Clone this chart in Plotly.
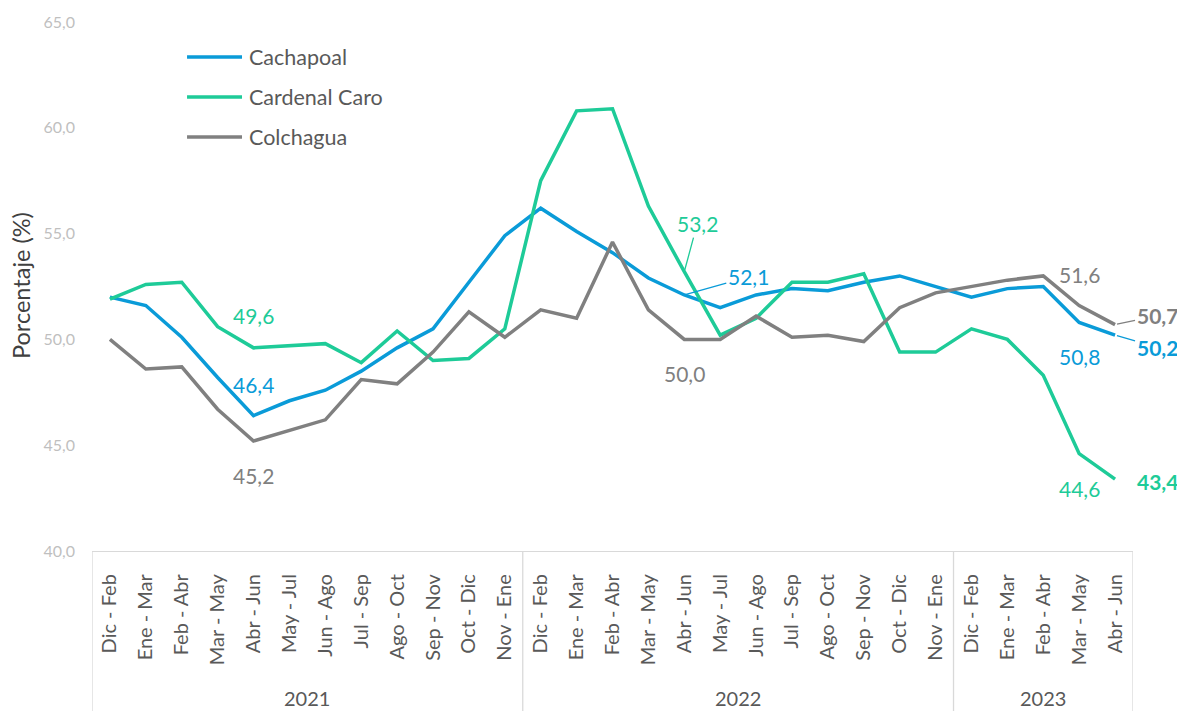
import plotly.graph_objects as go

# ---------------- data ----------------
periods = ["Dic - Feb", "Ene - Mar", "Feb - Abr", "Mar - May", "Abr - Jun", "May - Jul",
           "Jun - Ago", "Jul - Sep", "Ago - Oct", "Sep - Nov", "Oct - Dic", "Nov - Ene",
           "Dic - Feb", "Ene - Mar", "Feb - Abr", "Mar - May", "Abr - Jun", "May - Jul",
           "Jun - Ago", "Jul - Sep", "Ago - Oct", "Sep - Nov", "Oct - Dic", "Nov - Ene",
           "Dic - Feb", "Ene - Mar", "Feb - Abr", "Mar - May", "Abr - Jun"]
years = ["2021", "2022", "2023"]
year_counts = [12, 12, 5]

cachapoal = [52.0, 51.6, 50.1, 48.2, 46.4, 47.1, 47.6, 48.5, 49.6, 50.5, 52.7, 54.9,
             56.2, 55.1, 54.1, 52.9, 52.1, 51.5, 52.1, 52.4, 52.3, 52.7, 53.0, 52.5,
             52.0, 52.4, 52.5, 50.8, 50.2]
cardenal_caro = [51.9, 52.6, 52.7, 50.6, 49.6, 49.7, 49.8, 48.9, 50.4, 49.0, 49.1, 50.5,
                 57.5, 60.8, 60.9, 56.3, 53.2, 50.2, 51.0, 52.7, 52.7, 53.1, 49.4, 49.4,
                 50.5, 50.0, 48.3, 44.6, 43.4]
colchagua = [50.0, 48.6, 48.7, 46.7, 45.2, 45.7, 46.2, 48.1, 47.9, 49.4, 51.3, 50.1,
             51.4, 51.0, 54.6, 51.4, 50.0, 50.0, 51.1, 50.1, 50.2, 49.9, 51.5, 52.2,
             52.5, 52.8, 53.0, 51.6, 50.7]

y_ticks = [40, 45, 50, 55, 60, 65]

# ---------------- styling ----------------
FONT = "Lato"
C_BLUE = "#0A9BD8"
C_GREEN = "#1ECB98"
C_GRAY = "#808080"
C_TEXT = "#595959"
C_AXIS = "#D9D9D9"

x_idx = list(range(len(periods)))
series = [("Cachapoal", cachapoal, C_BLUE),
          ("Cardenal Caro", cardenal_caro, C_GREEN),
          ("Colchagua", colchagua, C_GRAY)]

fig = go.Figure()
for name, vals, col in series:
    fig.add_trace(go.Scatter(
        x=x_idx, y=vals, mode="lines", name=name, showlegend=False,
        line=dict(color=col, width=3.5), hoverinfo="skip"))

def fmt(v):
    return f"{v:.1f}".replace(".", ",")

annotations = []
shapes = []

def lab(series_vals, i, col, dx=0, dy=0, size=21, bold=False, arrow=None):
    v = series_vals[i]
    txt = f"<b>{fmt(v)}</b>" if bold else fmt(v)
    a = dict(x=i, y=v, xref="x", yref="y", text=txt,
             font=dict(family=FONT, size=size, color=col))
    if arrow:
        a.update(showarrow=True, ax=arrow[0], ay=arrow[1], arrowhead=0,
                 arrowwidth=1.3, arrowcolor=col, standoff=2)
    else:
        a.update(showarrow=False, xshift=dx, yshift=dy)
    annotations.append(a)

# 2021 Abr-Jun labels
lab(cardenal_caro, 4, C_GREEN, dy=32)
lab(cachapoal, 4, C_BLUE, dy=31)
lab(colchagua, 4, C_GRAY, dy=-35)
# 2022 Abr-Jun labels
lab(cardenal_caro, 16, C_GREEN, arrow=(13, -48))
lab(cachapoal, 16, C_BLUE, arrow=(64, -18))
lab(colchagua, 16, C_GRAY, dy=-34)
# 2023 Mar-May labels
lab(colchagua, 27, C_GRAY, dy=31)
lab(cachapoal, 27, C_BLUE, dy=-34)
lab(cardenal_caro, 27, C_GREEN, dy=-35)
# last values, bold
lab(colchagua, 28, C_GRAY, size=21, bold=True, arrow=(42, -9))
lab(cachapoal, 28, C_BLUE, size=21, bold=True, arrow=(42, 12))
lab(cardenal_caro, 28, C_GREEN, size=21, bold=True, dx=42, dy=-2)

# legend (drawn to match the long legend keys of the original)
legend_y = [0.9338, 0.8582, 0.7826]
for (name, _, col), ly in zip(series, legend_y):
    shapes.append(dict(type="line", xref="paper", yref="paper", x0=0.0913, x1=0.1441,
                       y0=ly, y1=ly, line=dict(color=col, width=3.5)))
    annotations.append(dict(x=0.1489, y=ly, xref="paper", yref="paper", text=name,
                            showarrow=False, xanchor="left", yanchor="middle",
                            font=dict(family=FONT, size=21.5, color=C_TEXT)))

# year group labels and separators
start = -0.5
bounds = [start]
for yr, n in zip(years, year_counts):
    center = start + n / 2
    annotations.append(dict(x=center, y=-0.277, xref="x", yref="paper", text=yr,
                            showarrow=False, xanchor="center", yanchor="middle",
                            font=dict(family=FONT, size=20, color=C_TEXT)))
    start += n
    bounds.append(start)
for b in bounds:
    shapes.append(dict(type="line", xref="x", yref="paper", x0=b, x1=b, y0=0, y1=-0.33,
                       line=dict(color=C_AXIS, width=1.3)))

# y-axis title
annotations.append(dict(x=-0.0682, y=0.501, xref="paper", yref="paper",
                        xanchor="center", yanchor="middle",
                        text="Porcentaje (%)", textangle=-90, showarrow=False,
                        font=dict(family=FONT, size=23.5, color="#404040")))

fig.update_layout(
    width=1185, height=711,
    margin=dict(l=84, r=60, t=14, b=168, autoexpand=False),
    paper_bgcolor="white", plot_bgcolor="white",
    separators=",.",
    font=dict(family=FONT, color=C_TEXT),
    showlegend=False,
    xaxis=dict(range=[-0.5, 28.5], tickvals=x_idx, ticktext=periods, tickangle=-90,
               tickfont=dict(family=FONT, size=20, color=C_TEXT),
               showgrid=False, zeroline=False, showline=True, linecolor=C_AXIS,
               linewidth=1.3, ticks="", ticklabelstandoff=14, fixedrange=True,
               automargin=False),
    yaxis=dict(range=[40, 65], tickvals=y_ticks, tickformat=".1f",
               tickfont=dict(family=FONT, size=16, color="#BFBFBF"),
               showgrid=False, zeroline=False, showline=False, ticks="",
               ticklabelstandoff=16, fixedrange=True, automargin=False),
    annotations=annotations,
    shapes=shapes,
)

fig.write_html("out.html")
